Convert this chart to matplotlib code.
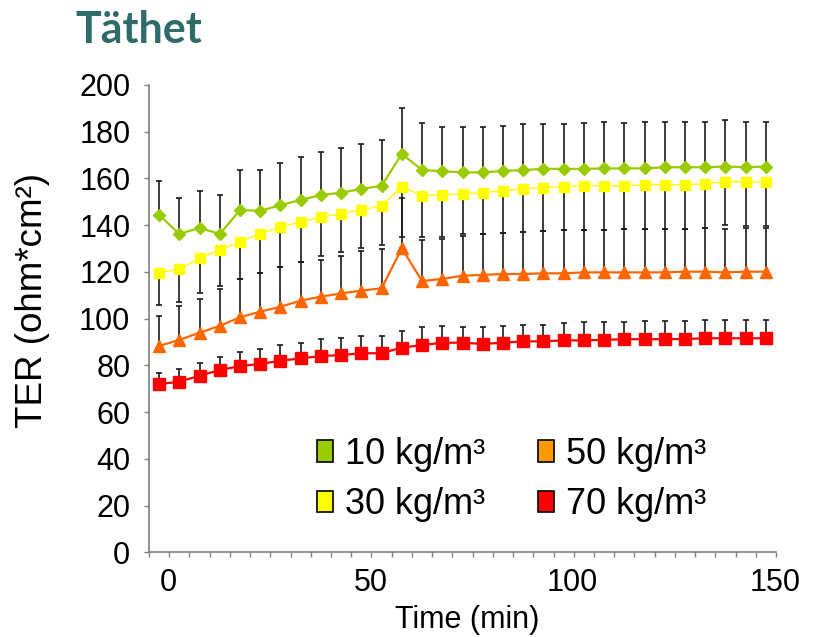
import matplotlib
matplotlib.use('Agg')
import matplotlib.pyplot as plt
import matplotlib.transforms as mtransforms
from matplotlib.ticker import MultipleLocator, FixedLocator
from matplotlib.patches import Patch

# ---------------- data ----------------
time_min = [0, 5, 10, 15, 20, 25, 30, 35, 40, 45, 50, 55, 60, 65, 70, 75,
            80, 85, 90, 95, 100, 105, 110, 115, 120, 125, 130, 135, 140, 145, 150]

ter_10 = [144.4, 136.2, 138.9, 136.2, 146.5, 146.1, 148.6, 150.8, 152.9, 153.9, 155.5,
          156.9, 170.5, 163.6, 163.1, 162.6, 162.6, 163.2, 163.6, 164.1, 164.1, 164.1,
          164.3, 164.3, 164.3, 164.8, 164.8, 164.8, 165.1, 164.8, 165.1]
sd_10 = [14.5, 15.3, 15.7, 16.6, 17.1, 17.5, 17.9, 18.2, 18.4, 19.0, 19.2, 19.7, 19.7,
         20.0, 18.9, 19.4, 19.4, 19.4, 19.6, 19.3, 19.3, 19.8, 20.0, 19.6, 20.0, 19.5,
         19.5, 19.5, 19.8, 19.5, 19.2]

ter_30 = [119.7, 121.1, 125.8, 129.4, 132.8, 136.4, 139.1, 141.4, 143.4, 144.9, 146.6,
          148.3, 156.5, 152.6, 153.1, 153.4, 153.9, 154.8, 155.6, 156.1, 156.5, 156.9,
          156.9, 156.9, 157.3, 157.3, 157.3, 157.8, 158.5, 158.5, 158.5]
sd_30 = [13.9, 13.8, 14.7, 15.3, 15.8, 16.7, 16.9, 17.0, 16.6, 16.2, 16.2, 16.8, 21.4,
         17.5, 18.0, 17.3, 17.8, 18.0, 18.5, 18.6, 18.7, 18.8, 18.8, 18.7, 18.8, 18.8,
         18.8, 18.9, 18.6, 18.8, 18.8]

ter_50 = [88.3, 90.9, 94.0, 96.9, 100.6, 103.0, 105.1, 107.7, 109.4, 110.8, 112.0, 113.0,
          130.1, 116.1, 117.0, 118.4, 118.7, 119.1, 119.1, 119.4, 119.4, 119.8, 119.8,
          119.8, 119.8, 119.8, 120.1, 120.1, 119.8, 120.1, 120.1]
sd_50 = [13.0, 14.5, 14.4, 15.7, 16.4, 16.7, 17.1, 16.7, 15.7, 16.0, 17.0, 16.7, 21.4,
         17.6, 17.1, 17.0, 17.4, 17.7, 18.0, 18.1, 18.4, 18.3, 18.3, 18.4, 18.7, 18.7,
         18.4, 18.8, 18.7, 18.8, 18.8]

ter_70 = [72.0, 73.0, 75.6, 78.0, 79.7, 80.6, 82.0, 83.0, 84.0, 84.4, 85.2, 85.2, 87.6,
          88.7, 89.7, 89.7, 89.2, 89.7, 90.3, 90.3, 90.7, 90.7, 90.9, 91.2, 91.2, 91.2,
          91.3, 91.6, 91.6, 91.6, 91.6]
sd_70 = [4.6, 5.5, 5.6, 5.5, 5.9, 6.3, 6.6, 6.4, 7.2, 7.5, 7.4, 7.4, 7.0, 7.9, 7.3, 6.9,
         7.4, 7.3, 7.1, 7.1, 7.3, 7.7, 7.5, 7.2, 7.7, 7.7, 7.6, 7.7, 7.7, 8.0, 8.0]

series_labels = ['10 kg/m³', '30 kg/m³', '50 kg/m³', '70 kg/m³']
x_ticks = [0, 50, 100, 150]
y_ticks = [0, 20, 40, 60, 80, 100, 120, 140, 160, 180, 200]

# ---------------- style ----------------
plt.rcParams['font.family'] = ['Liberation Sans', 'DejaVu Sans']

W, H = 813, 637
fig = plt.figure(figsize=(W / 100, H / 100), dpi=100)
ax_left, ax_right, ax_top, ax_bottom = 149, 776, 85, 552.3
ax = fig.add_axes([ax_left / W, 1 - ax_bottom / H, (ax_right - ax_left) / W,
                   (ax_bottom - ax_top) / H])

zeros = [0] * len(time_min)
eb_kw = dict(fmt='none', ecolor='#1a1a1a', elinewidth=1.2, capsize=2.4,
             capthick=1.2, zorder=2)
ax.errorbar(time_min, ter_10, yerr=[zeros, sd_10], **eb_kw)
ax.errorbar(time_min, ter_30, yerr=[sd_30, zeros], **eb_kw)
ax.errorbar(time_min, ter_50, yerr=[zeros, sd_50], **eb_kw)
ax.errorbar(time_min, ter_70, yerr=[zeros, sd_70], **eb_kw)

ax.plot(time_min, ter_10, color='#99CC00', lw=1.6, marker='D', ms=6.2,
        mec='#99CC00', mfc='#99CC00', zorder=3)
ax.plot(time_min, ter_30, color='#FFFF00', lw=1.0, marker='s', ms=7,
        mec='#FFFF00', mfc='#FFFF00', zorder=3)
ax.plot(time_min, ter_50, color='#FF6600', lw=1.6, marker='^', ms=8,
        mec='#FF6600', mfc='#FF6600', zorder=3)
ax.plot(time_min, ter_70, color='#FF0000', lw=1.6, marker='s', ms=8,
        mec='#FF0000', mfc='#FF0000', zorder=3)

ax.set_xlim(-2.5, 152.5)
ax.set_ylim(0, 200)
for s in ['top', 'right']:
    ax.spines[s].set_visible(False)
for s in ['left', 'bottom']:
    ax.spines[s].set_color('#808080')
    ax.spines[s].set_linewidth(1.2)

ax.xaxis.set_major_locator(FixedLocator(x_ticks))
ax.xaxis.set_minor_locator(MultipleLocator(5, offset=2.5))
ax.yaxis.set_major_locator(FixedLocator(y_ticks))
ax.tick_params(axis='x', which='major', length=0, pad=11, labelsize=22)
ax.tick_params(axis='x', which='minor', length=3.5, width=1, color='#808080',
               direction='out')
ax.tick_params(axis='y', which='major', length=3.5, width=1, color='#808080',
               direction='out', pad=10, labelsize=22)
# x tick labels sit slightly right of their ticks in the reference
shift = mtransforms.ScaledTranslation(9 / 100, 0, fig.dpi_scale_trans)
for lbl in ax.get_xticklabels():
    lbl.set_transform(lbl.get_transform() + shift)

# axis labels / title
fig.text(467 / W, 1 - 628 / H, 'Time (min)', ha='center', va='baseline', fontsize=22)
fig.text(33 / W, 1 - 301 / H, 'TER (ohm*cm²)', rotation=90, ha='center',
         va='center', fontsize=26.5)
fig.text(75 / W, 1 - 43 / H, 'Täthet', ha='left', va='baseline', fontsize=31,
         fontweight='bold', color='#2F6B68', family=['Lato', 'DejaVu Sans'])

legend_colors = ['#99CC00', '#FFFF00', '#FF9900', '#FF0000']
handles = [Patch(facecolor=c, edgecolor='black', linewidth=1.2) for c in legend_colors]
leg = fig.legend(handles, series_labels, ncol=2, loc='upper left',
                 bbox_to_anchor=(317 / W, 1 - 437 / H), frameon=False,
                 fontsize=26, handlelength=0.45, handleheight=0.55,
                 handletextpad=0.33, columnspacing=1.45, labelspacing=0.42,
                 borderpad=0, borderaxespad=0)

fig.savefig('out.png', dpi=100)
